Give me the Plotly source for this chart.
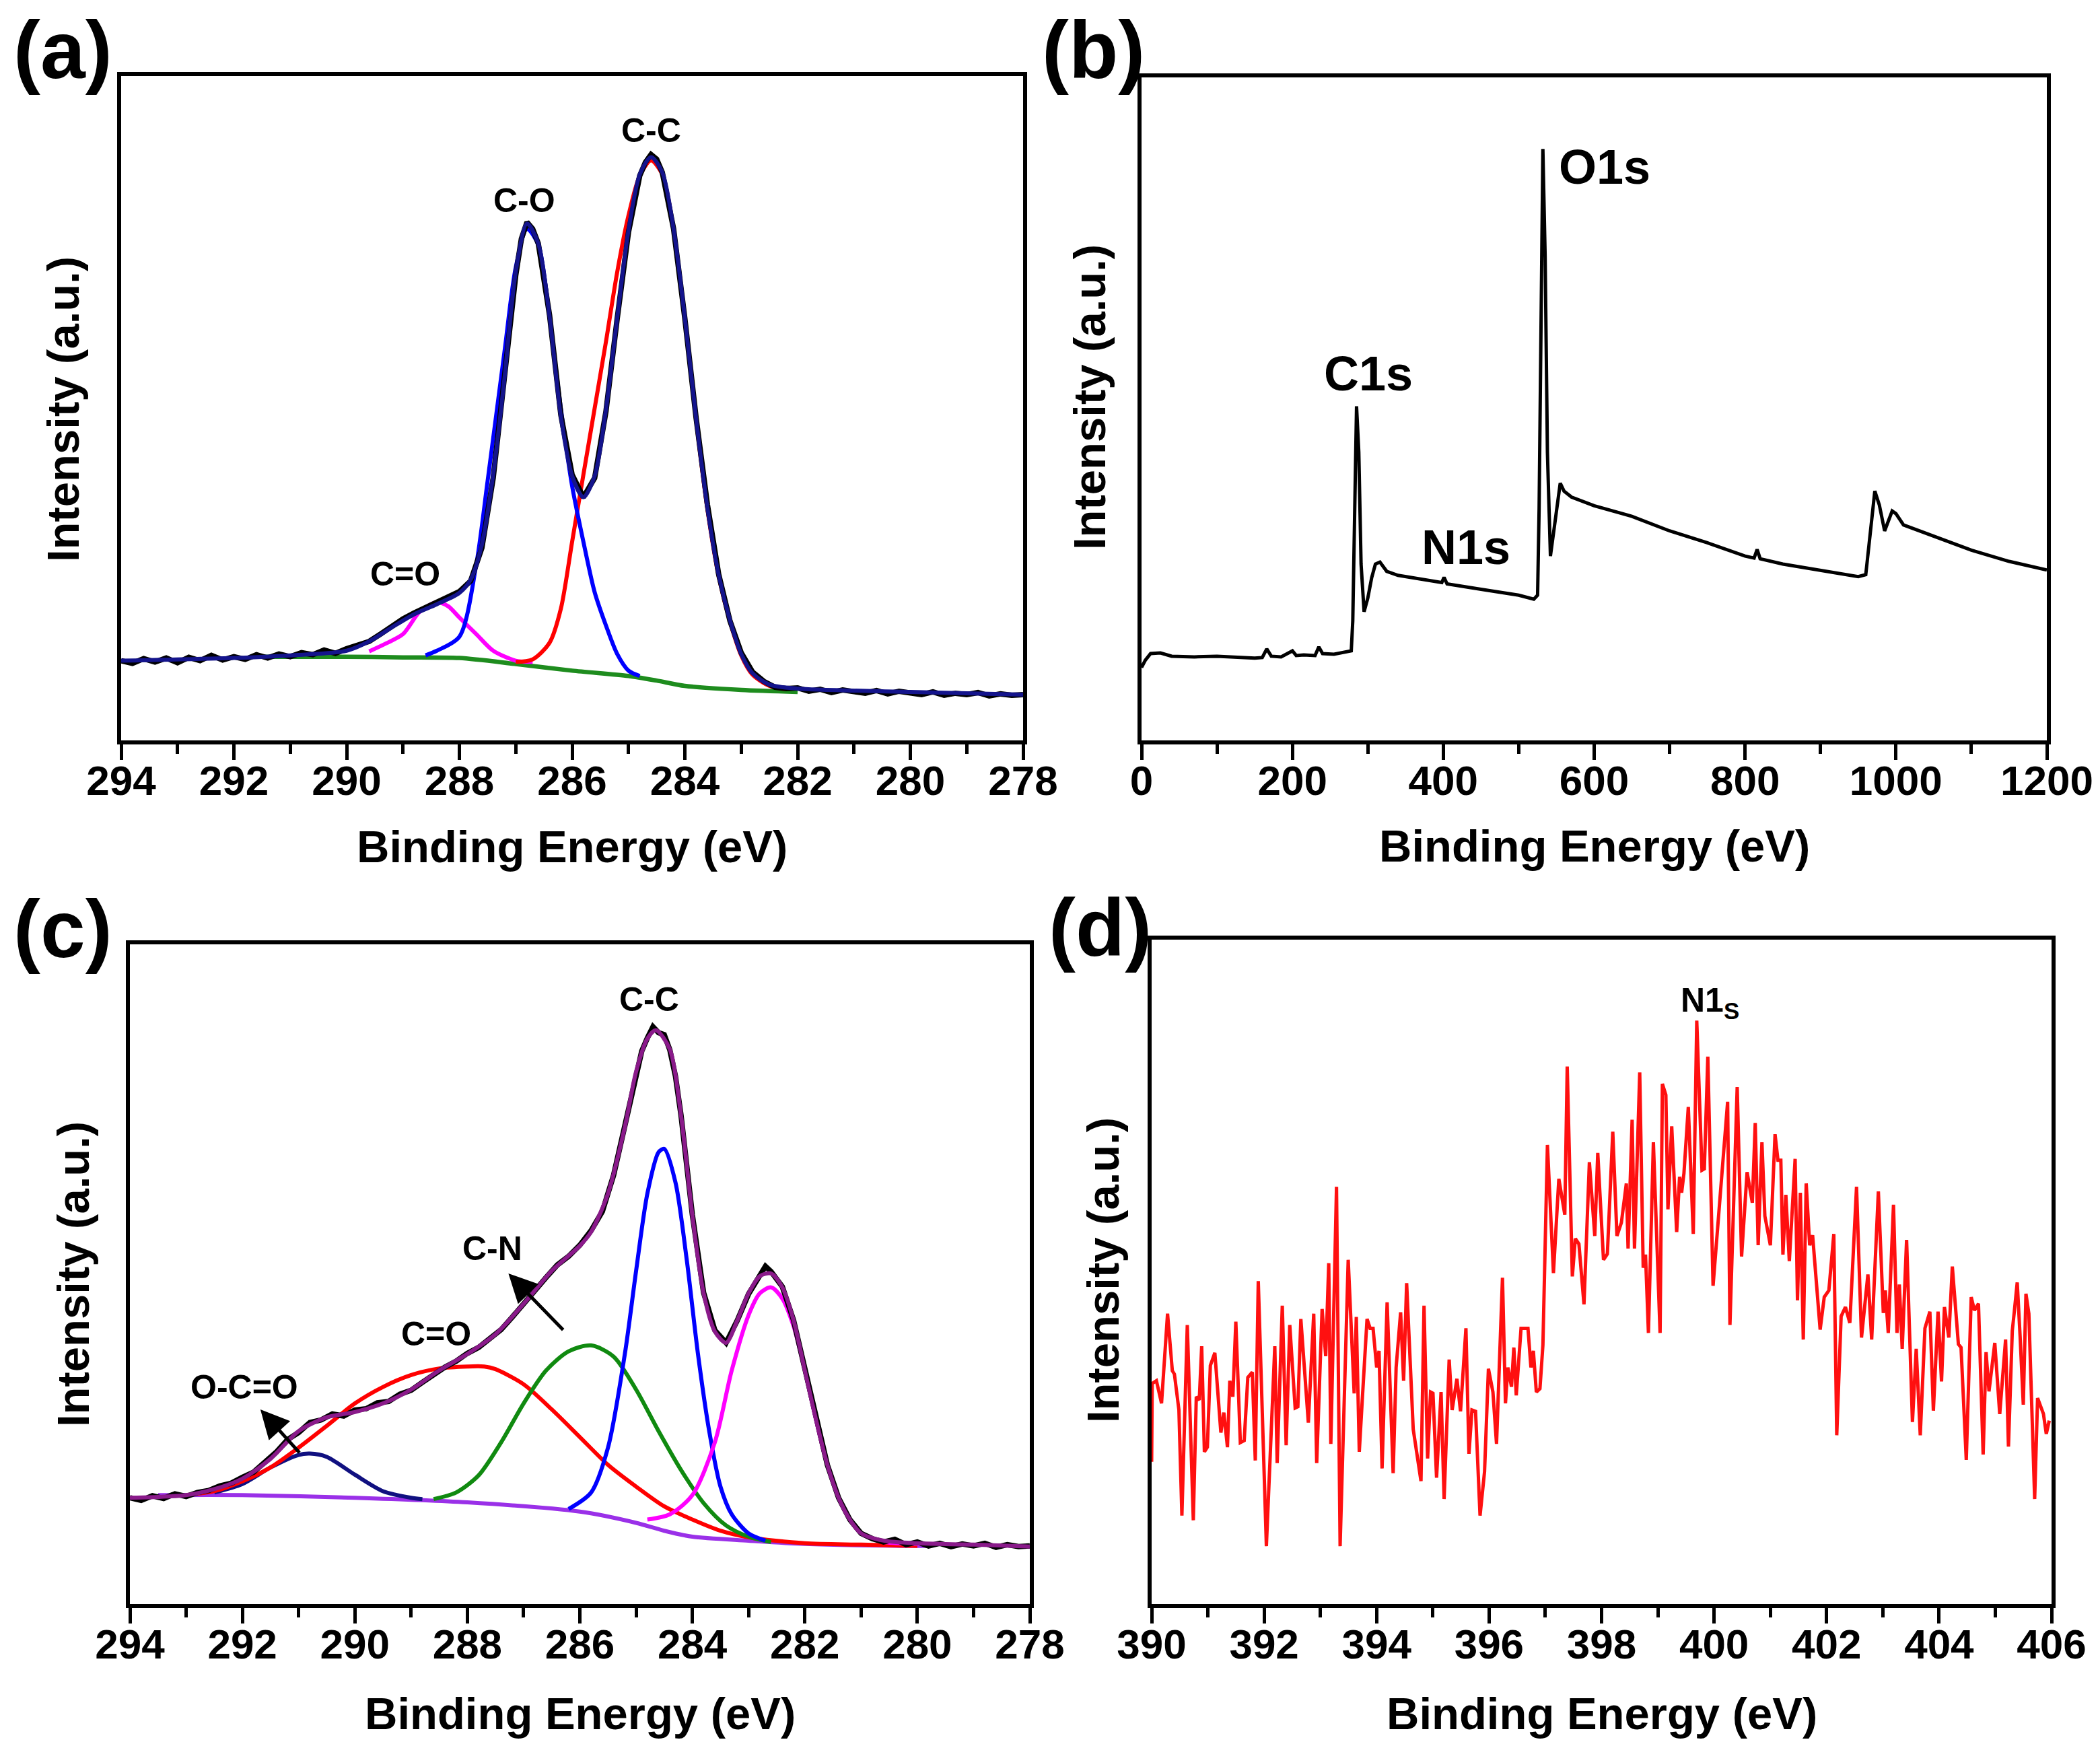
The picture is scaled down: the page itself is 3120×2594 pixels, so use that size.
import plotly.graph_objects as go

# ---- (a) C1s high-resolution spectrum ----
a_be = [294.0, 293.8, 293.6, 293.4, 293.2, 293.0, 292.8, 292.6, 292.4, 292.2, 292.0, 291.8, 291.6, 291.4,
        291.2, 291.0, 290.8, 290.6, 290.4, 290.2, 290.0, 289.8, 289.6, 289.4, 289.2, 289.0, 288.8, 288.6,
        288.4, 288.2, 288.0, 287.8, 287.6, 287.4, 287.2, 287.0, 286.9, 286.8, 286.7, 286.6, 286.4, 286.2,
        286.0, 285.8, 285.6, 285.4, 285.2, 285.0, 284.8, 284.7, 284.6, 284.5, 284.4, 284.2, 284.0, 283.8,
        283.6, 283.4, 283.2, 283.0, 282.8, 282.6, 282.4, 282.2, 282.0, 281.8, 281.6, 281.4, 281.2, 281.0,
        280.8, 280.6, 280.4, 280.2, 280.0, 279.8, 279.6, 279.4, 279.2, 279.0, 278.8, 278.6, 278.4, 278.2, 278.0]
a_raw = [12.0, 11.6, 12.3, 11.8, 12.4, 11.7, 12.5, 12.0, 12.8, 12.1, 12.6, 12.2, 12.9, 12.4,
         13.0, 12.6, 13.2, 12.9, 13.6, 13.1, 13.8, 14.3, 14.9, 16.0, 17.2, 18.3, 19.2, 20.0,
         20.6, 21.4, 22.4, 24.0, 29.0, 39.5, 54.0, 70.0, 75.5, 78.0, 77.0, 74.8, 64.0, 49.0,
         40.0, 36.6, 39.5, 49.5, 63.5, 76.5, 85.0, 87.0, 88.2, 87.5, 85.5, 77.0, 63.5, 48.5,
         35.5, 25.0, 18.0, 13.2, 10.3, 8.9, 8.0, 7.8, 7.9, 7.4, 7.7, 7.2, 7.6, 7.3,
         7.1, 7.5, 7.0, 7.4, 7.2, 6.9, 7.3, 6.8, 7.1, 6.9, 7.2, 6.7, 7.0, 6.8, 6.9]

a_fit_be = [294.0, 292.0, 291.0, 290.0, 289.6, 289.2, 288.8, 288.4, 288.0, 287.8, 287.6, 287.4, 287.2,
            287.0, 286.8, 286.6, 286.4, 286.2, 286.0, 285.8, 285.6, 285.4, 285.2, 285.0, 284.8, 284.6,
            284.4, 284.2, 284.0, 283.8, 283.6, 283.4, 283.2, 283.0, 282.8, 282.5, 282.0, 280.0, 278.0]
a_fit = [12.0, 12.4, 12.8, 13.5, 14.9, 17.0, 19.0, 20.5, 22.2, 24.2, 29.5, 40.0, 54.5,
         70.5, 77.8, 74.8, 63.8, 48.8, 39.8, 36.6, 39.8, 49.8, 63.6, 76.8, 85.2, 87.8,
         85.5, 77.0, 63.6, 48.4, 35.0, 24.9, 18.1, 13.0, 10.1, 8.4, 7.8, 7.3, 6.9]

a_co_be = [288.6, 288.4, 288.0, 287.7, 287.5, 287.2, 287.0, 286.8, 286.6, 286.4, 286.2, 286.0,
           285.8, 285.6, 285.4, 285.2, 285.0, 284.8]
a_co = [12.8, 13.5, 15.6, 26.5, 39.0, 58.5, 71.2, 77.0, 74.6, 63.6, 50.0, 38.3,
        29.9, 22.3, 17.3, 13.0, 10.5, 9.7]

a_cc_be = [287.0, 286.7, 286.4, 286.2, 286.0, 285.8, 285.6, 285.4, 285.2, 285.0, 284.8, 284.6,
           284.4, 284.2, 284.0, 283.8, 283.6, 283.4, 283.2, 283.0, 282.8, 282.5, 282.2]
a_cc = [11.8, 12.2, 14.7, 19.8, 29.9, 40.0, 50.0, 60.0, 70.5, 79.0, 85.0, 87.3,
        85.2, 76.8, 63.4, 48.2, 34.8, 24.7, 17.9, 12.8, 9.9, 8.2, 7.7]

a_cdo_be = [289.6, 289.3, 289.0, 288.7, 288.4, 288.2, 288.0, 287.7, 287.4, 287.0, 286.7]
a_cdo = [13.4, 14.6, 16.0, 19.4, 20.8, 20.2, 18.5, 16.0, 13.5, 12.0, 11.8]

a_bg_be = [291.5, 290.0, 289.0, 288.0, 287.0, 286.0, 285.0, 284.5, 284.0, 283.0, 282.0]
a_bg = [12.6, 12.6, 12.5, 12.4, 11.5, 10.5, 9.7, 9.0, 8.2, 7.6, 7.3]

# ---- (b) survey spectrum ----
b_be = [0, 5, 12, 25, 40, 70, 100, 130, 150, 160, 166, 172, 185, 200, 205, 215, 230, 235, 240, 255,
        270, 278, 280, 283, 285, 288, 291, 295, 300, 305, 310, 316, 325, 340, 370, 398, 401, 405, 450,
        500, 520, 525, 527, 530, 532, 535, 538, 542, 548, 555, 560, 570, 600, 650, 700, 750, 800, 812,
        816, 820, 850, 900, 950, 960, 965, 972, 978, 985, 995, 1000, 1010, 1050, 1100, 1150, 1200]
b_int = [11.0, 12.1, 13.1, 13.2, 12.7, 12.6, 12.7, 12.5, 12.4, 12.5, 13.8, 12.7, 12.6, 13.5, 12.8, 12.9,
         12.8, 14.1, 13.1, 13.0, 13.3, 13.5, 18.0, 35.0, 50.4, 43.5, 26.6, 19.4, 21.5, 24.5, 26.6, 26.9,
         25.5, 24.9, 24.3, 23.8, 24.6, 23.6, 22.8, 21.9, 21.3, 21.9, 35.0, 68.8, 89.2, 73.0, 43.5, 27.8,
         33.3, 38.8, 37.6, 36.7, 35.4, 33.8, 31.6, 29.8, 27.8, 27.5, 28.8, 27.4, 26.6, 25.7, 24.7, 25.0,
         30.0, 37.6, 35.5, 31.6, 34.6, 34.2, 32.5, 30.8, 28.7, 27.0, 25.7]

# ---- (c) C1s high-resolution spectrum ----
c_be = [294.0, 293.8, 293.6, 293.4, 293.2, 293.0, 292.8, 292.6, 292.4, 292.2, 292.0, 291.8, 291.6, 291.4,
        291.2, 291.0, 290.8, 290.6, 290.4, 290.2, 290.0, 289.8, 289.6, 289.4, 289.2, 289.0, 288.8, 288.6,
        288.4, 288.2, 288.0, 287.8, 287.6, 287.4, 287.2, 287.0, 286.8, 286.6, 286.4, 286.2, 286.0, 285.8,
        285.6, 285.4, 285.2, 285.0, 284.9, 284.8, 284.7, 284.6, 284.5, 284.4, 284.3, 284.2, 284.0, 283.8,
        283.6, 283.4, 283.2, 283.0, 282.8, 282.7, 282.6, 282.4, 282.2, 282.0, 281.8, 281.6, 281.4, 281.2,
        281.0, 280.8, 280.6, 280.4, 280.2, 280.0, 279.8, 279.6, 279.4, 279.2, 279.0, 278.8, 278.6, 278.4,
        278.2, 278.0]
c_raw = [16.1, 15.7, 16.4, 16.0, 16.7, 16.3, 16.9, 17.2, 17.9, 18.3, 19.2, 20.0, 21.5, 23.0,
         24.9, 26.0, 27.5, 27.9, 28.8, 28.5, 29.4, 29.6, 30.5, 30.7, 31.8, 32.4, 33.6, 34.8,
         35.9, 36.8, 38.0, 38.9, 40.3, 41.6, 43.5, 45.6, 47.6, 49.5, 51.4, 52.7, 54.4, 56.6,
         59.5, 65.0, 72.5, 80.5, 83.8, 85.8, 87.5, 86.6, 86.3, 84.0, 80.0, 74.0, 59.0, 47.2,
         41.5, 39.6, 43.0, 47.0, 49.8, 51.2, 50.4, 48.1, 43.0, 35.4, 27.9, 21.1, 16.1, 12.8,
         10.7, 9.9, 9.4, 9.8, 9.0, 9.4, 8.8, 9.2, 8.7, 9.1, 8.8, 9.2, 8.6, 9.0,
         8.7, 8.8]

c_fit_be = [294.0, 293.0, 292.5, 292.0, 291.5, 291.0, 290.5, 290.0, 289.5, 289.0, 288.5, 288.0, 287.5,
            287.0, 286.5, 286.0, 285.8, 285.5, 285.2, 285.0, 284.8, 284.65, 284.4, 284.2, 284.0, 283.8,
            283.6, 283.4, 283.2, 283.0, 282.8, 282.6, 282.4, 282.2, 282.0, 281.8, 281.6, 281.4, 281.2,
            281.0, 280.6, 280.0, 279.0, 278.0]
c_fit = [16.1, 16.5, 17.4, 19.0, 22.0, 26.2, 28.3, 29.1, 30.4, 32.5, 35.4, 37.9, 40.9,
         45.5, 50.5, 54.3, 56.4, 62.2, 72.3, 80.7, 85.7, 87.0, 84.1, 74.0, 58.9, 47.1,
         41.3, 39.6, 43.0, 47.1, 49.7, 50.1, 48.0, 43.0, 35.4, 27.9, 21.1, 16.1, 12.8,
         10.7, 9.6, 9.2, 9.0, 8.7]

c_ocdo_be = [292.5, 292.0, 291.5, 291.0, 290.8, 290.5, 290.0, 289.5, 289.0, 288.8]
c_ocdo = [16.9, 18.2, 20.7, 22.6, 22.8, 22.3, 19.6, 17.1, 16.1, 15.9]

c_cdo_be = [293.0, 292.5, 292.0, 291.5, 291.0, 290.5, 290.0, 289.5, 289.0, 288.5, 288.0, 287.7, 287.5,
            287.0, 286.5, 286.0, 285.5, 285.0, 284.5, 284.0, 283.5, 283.0, 282.0, 281.0, 280.0]
c_cdo = [16.5, 17.1, 18.6, 20.7, 23.7, 27.0, 30.4, 32.9, 34.7, 35.7, 36.0, 36.0, 35.6,
         33.3, 29.5, 25.3, 21.1, 17.8, 14.8, 12.8, 11.1, 10.1, 9.2, 9.0, 8.8]

c_cn_be = [288.6, 288.2, 287.8, 287.4, 287.0, 286.6, 286.2, 285.8, 285.4, 285.0, 284.6, 284.2,
           283.8, 283.4, 283.0, 282.6]
c_cn = [15.9, 16.9, 19.5, 24.5, 30.4, 35.4, 38.3, 39.2, 37.5, 32.5, 26.2, 20.3,
        15.3, 11.9, 10.2, 9.4]

c_cc_be = [286.2, 285.8, 285.5, 285.2, 285.0, 284.8, 284.6, 284.5, 284.3, 284.1, 283.9, 283.7,
           283.5, 283.3, 283.0, 282.7]
c_cc = [14.4, 16.9, 23.7, 37.9, 50.5, 62.2, 68.5, 69.0, 63.9, 52.2, 37.9, 26.2,
        17.8, 13.6, 10.7, 9.6]

c_p2_be = [284.8, 284.4, 284.0, 283.6, 283.3, 283.0, 282.8, 282.6, 282.4, 282.2, 282.0, 281.8,
           281.6, 281.4, 281.2, 281.0, 280.6, 280.0, 279.8]
c_p2 = [12.8, 13.6, 16.5, 24.5, 35.4, 43.8, 47.1, 48.0, 46.3, 42.1, 35.4, 27.9,
        21.1, 16.1, 12.8, 10.7, 9.4, 9.1, 9.0]

c_bg_be = [293.5, 292.0, 290.0, 288.0, 286.0, 285.0, 284.5, 284.0, 283.0, 282.0, 280.0, 279.8]
c_bg = [16.5, 16.5, 16.1, 15.4, 14.0, 12.3, 11.1, 10.2, 9.6, 9.1, 8.8, 8.8]

# ---- (d) N1s high-resolution spectrum ----
d_be = [390.00, 390.01, 390.085, 390.176, 390.283, 390.368, 390.405, 390.485, 390.538, 390.634, 390.741,
        390.794, 390.847, 390.890, 390.938, 390.991, 391.044, 391.124, 391.231, 391.284, 391.348, 391.390,
        391.444, 391.497, 391.577, 391.646, 391.710, 391.790, 391.843, 391.896, 392.040, 392.190, 392.232,
        392.323, 392.392, 392.456, 392.552, 392.600, 392.653, 392.786, 392.882, 392.935, 393.031, 393.095,
        393.149, 393.186, 393.287, 393.351, 393.495, 393.601, 393.639, 393.692, 393.745, 393.830, 393.884,
        393.937, 394.001, 394.043, 394.097, 394.187, 394.294, 394.347, 394.427, 394.480, 394.534, 394.651,
        394.789, 394.843, 394.907, 394.960, 395.002, 395.066, 395.146, 395.200, 395.290, 395.343, 395.428,
        395.492, 395.588, 395.642, 395.695, 395.759, 395.839, 395.919, 395.988, 396.068, 396.132, 396.238,
        396.291, 396.334, 396.398, 396.440, 396.483, 396.568, 396.691, 396.744, 396.787, 396.840, 396.904,
        396.957, 397.037, 397.144, 397.240, 397.346, 397.389, 397.480, 397.533, 397.597, 397.687, 397.783,
        397.879, 397.932, 398.034, 398.103, 398.199, 398.273, 398.352, 398.440, 398.471, 398.543, 398.585,
        398.678, 398.740, 398.781, 398.833, 398.921, 399.040, 399.081, 399.143, 399.180, 399.247, 399.335,
        399.387, 399.423, 399.464, 399.542, 399.630, 399.692, 399.785, 399.827, 399.889, 399.982, 400.241,
        400.282, 400.411, 400.489, 400.587, 400.680, 400.732, 400.784, 400.851, 400.903, 401.001, 401.084,
        401.136, 401.187, 401.224, 401.276, 401.338, 401.441, 401.483, 401.534, 401.586, 401.638, 401.700,
        401.752, 401.886, 401.959, 402.041, 402.129, 402.181, 402.259, 402.336, 402.414, 402.533, 402.621,
        402.735, 402.802, 402.921, 403.009, 403.045, 403.097, 403.190, 403.252, 403.294, 403.345, 403.423,
        403.527, 403.594, 403.666, 403.749, 403.837, 403.899, 403.982, 404.044, 404.096, 404.174, 404.236,
        404.344, 404.391, 404.484, 404.572, 404.629, 404.701, 404.784, 404.836, 404.888, 404.991, 405.079,
        405.183, 405.234, 405.302, 405.338, 405.390, 405.441, 405.498, 405.545, 405.597, 405.700, 405.752,
        405.856, 405.907, 405.959]
d_int = [21.4, 33.2, 33.6, 30.2, 43.7, 35.1, 34.6, 29.2, 13.3, 42.0, 12.6,
         31.2, 30.7, 38.8, 22.9, 23.6, 35.9, 37.8, 25.8, 28.8, 23.6, 33.6,
         31.2, 42.5, 24.3, 24.6, 34.1, 34.9, 21.6, 48.6, 8.7, 38.8, 21.2,
         44.9, 23.9, 42.0, 29.5, 29.7, 42.9, 27.3, 43.7, 21.2, 44.4, 37.3,
         51.3, 24.1, 62.8, 8.7, 51.8, 31.7, 43.2, 22.9, 30.7, 42.9, 41.5,
         41.5, 35.6, 38.1, 20.4, 45.4, 19.7, 35.6, 43.9, 33.6, 48.3, 26.3,
         18.5, 44.9, 21.9, 31.9, 31.7, 19.0, 31.9, 15.8, 36.8, 29.2, 33.9,
         29.0, 41.5, 22.6, 29.2, 29.0, 13.3, 19.9, 35.4, 31.9, 24.1, 49.1,
         30.2, 35.6, 32.7, 38.6, 31.4, 41.5, 41.5, 35.6, 38.1, 31.9, 32.4,
         39.0, 69.1, 49.8, 64.0, 58.6, 80.9, 49.3, 55.0, 54.2, 45.1, 66.5,
         55.4, 67.9, 51.8, 52.7, 71.1, 55.4, 57.4, 63.3, 53.5, 72.9, 53.5,
         80.0, 50.6, 52.6, 40.8, 69.5, 40.8, 78.3, 76.6, 59.4, 71.9, 56.0,
         64.3, 61.9, 64.8, 74.8, 55.7, 87.8, 65.3, 65.5, 82.4, 47.9, 75.6,
         42.0, 77.8, 52.3, 65.0, 60.4, 72.4, 54.0, 69.5, 58.4, 54.0, 70.7,
         66.8, 66.8, 52.6, 61.6, 51.6, 67.0, 45.7, 61.9, 39.8, 63.3, 54.0,
         55.5, 41.3, 46.2, 47.2, 55.7, 25.4, 43.3, 44.7, 42.3, 62.8, 40.1,
         49.6, 39.8, 62.1, 43.8, 47.2, 40.8, 60.1, 40.8, 48.1, 38.4, 54.8,
         27.4, 38.4, 25.4, 41.5, 44.0, 29.1, 44.0, 33.5, 44.7, 40.1, 50.8,
         39.1, 38.6, 21.7, 46.2, 44.2, 45.2, 22.5, 37.9, 32.0, 39.3, 28.6,
         39.8, 23.7, 41.1, 44.0, 48.4, 40.3, 30.0, 46.7, 43.7, 15.8, 31.0,
         28.6, 25.6, 27.6]

W, H = 3120, 2594
FONT = "Liberation Sans, Arial, sans-serif"

# plot boxes in pixels: left, right, top, bottom
boxes = {
    "a": (172, 1512, 105, 1092),
    "b": (1688, 3033, 107, 1092),
    "c": (185, 1522, 1395, 2375),
    "d": (1703, 3040, 1388, 2375),
}


def xdom(b):
    return [b[0] / W, b[1] / W]


def ydom(b):
    return [1 - b[3] / H, 1 - b[2] / H]


fig = go.Figure()


def line(x, y, color, width, ax, shape="spline"):
    fig.add_trace(go.Scatter(x=x, y=y, mode="lines", xaxis=ax[0], yaxis=ax[1],
                             line=dict(color=color, width=width, shape=shape, smoothing=0.8),
                             showlegend=False, hoverinfo="skip"))


A = ("x", "y")
B = ("x2", "y2")
C = ("x3", "y3")
D = ("x4", "y4")

# (a) components under the measured curve and envelope
line(a_bg_be, a_bg, "#1e8c1e", 6.5, A)
line(a_cdo_be, a_cdo, "#ff00ff", 6, A)
line(a_cc_be, a_cc, "#ff0000", 6, A)
line(a_co_be, a_co, "#0000ff", 6, A)
line(a_be, a_raw, "black", 8, A, "linear")
line(a_fit_be, a_fit, "#14148c", 6, A)
# (b)
line(b_be, b_int, "black", 5, B, "linear")
# (c)
line(c_bg_be, c_bg, "#9a30e8", 6, C)
line(c_ocdo_be, c_ocdo, "#101080", 6, C)
line(c_cdo_be, c_cdo, "#ff0000", 6, C)
line(c_cn_be, c_cn, "#108a10", 6, C)
line(c_cc_be, c_cc, "#0000ff", 6, C)
line(c_p2_be, c_p2, "#ff00ff", 6, C)
line(c_be, c_raw, "black", 8, C, "linear")
line(c_fit_be, c_fit, "#8a1a8a", 6, C)
# (d)
line(d_be, d_int, "#ff1010", 5, D, "linear")

tickfont = dict(family=FONT, size=62, color="black", weight="bold")


def xaxis(box, rng, dtick, minor):
    return dict(domain=xdom(box), range=rng, dtick=dtick, tick0=0, showline=True, mirror=True,
                linecolor="black", linewidth=6, ticks="outside", ticklen=23, tickwidth=5,
                tickcolor="black", tickfont=tickfont, ticklabelstandoff=-22,
                showgrid=False, zeroline=False, automargin=False,
                minor=dict(dtick=minor, ticks="outside", ticklen=14, tickwidth=5, tickcolor="black"))


def yaxis(box, anchor):
    return dict(domain=ydom(box), range=[0, 100], anchor=anchor, showline=True, mirror=True,
                linecolor="black", linewidth=6, ticks="", showticklabels=False,
                showgrid=False, zeroline=False, automargin=False)


fig.update_layout(
    width=W, height=H, autosize=False,
    margin=dict(l=0, r=0, t=0, b=0, pad=0, autoexpand=False),
    paper_bgcolor="white", plot_bgcolor="white",
    xaxis=dict(xaxis(boxes["a"], [294, 278], 2, 1), anchor="y"),
    yaxis=yaxis(boxes["a"], "x"),
    xaxis2=dict(xaxis(boxes["b"], [0, 1200], 200, 100), anchor="y2"),
    yaxis2=yaxis(boxes["b"], "x2"),
    xaxis3=dict(xaxis(boxes["c"], [294, 278], 2, 1), anchor="y3"),
    yaxis3=yaxis(boxes["c"], "x3"),
    xaxis4=dict(xaxis(boxes["d"], [390, 406], 2, 1), anchor="y4"),
    yaxis4=yaxis(boxes["d"], "x4"),
)

ann = []


def paper_text(text, px, py, size, angle=0):
    ann.append(dict(text=text, x=px / W, y=1 - py / H, xref="paper", yref="paper",
                    showarrow=False, textangle=angle, xanchor="center", yanchor="middle",
                    font=dict(family=FONT, size=size, color="black", weight="bold")))


def data_text(text, x, y, ax, size):
    ann.append(dict(text=text, x=x, y=y, xref=ax[0], yref=ax[1], showarrow=False,
                    xanchor="center", yanchor="middle",
                    font=dict(family=FONT, size=size, color="black", weight="bold")))


# panel letters
paper_text("(a)", 85, 66, 120)
paper_text("(b)", 1616, 66, 120)
paper_text("(c)", 85, 1372, 120)
paper_text("(d)", 1626, 1370, 120)

# axis titles
for key, xt_y in (("a", 1250), ("b", 1248), ("c", 2537), ("d", 2537)):
    bx = boxes[key]
    paper_text("Binding Energy (eV)", (bx[0] + bx[1]) / 2, xt_y, 67)
paper_text("Intensity (a.u.)", 85, 600, 67, -90)
paper_text("Intensity (a.u.)", 1610, 582, 67, -90)
paper_text("Intensity (a.u.)", 100, 1885, 67, -90)
paper_text("Intensity (a.u.)", 1630, 1879, 67, -90)

# peak labels
data_text("C-C", 284.6, 91.8, A, 50)
data_text("C-O", 286.85, 81.3, A, 50)
data_text("C=O", 288.96, 25.0, A, 50)

data_text("C1s", 301, 55.3, B, 72)
data_text("N1s", 430, 29.1, B, 72)
data_text("O1s", 614, 86.5, B, 72)

data_text("C-C", 284.77, 91.6, C, 50)
data_text("C-N", 287.55, 53.9, C, 50)
data_text("C=O", 288.56, 40.9, C, 50)
data_text("O-C=O", 291.96, 32.9, C, 50)

data_text("N1<sub>S</sub>", 399.93, 90.5, D, 50)

# arrows in (c)
for head, tail in (((291.68, 29.5), (290.97, 22.8)), ((287.27, 50.1), (286.28, 41.4))):
    ann.append(dict(text="", x=head[0], y=head[1], ax=tail[0], ay=tail[1], xref="x3", yref="y3",
                    axref="x3", ayref="y3", showarrow=True, arrowhead=2, arrowsize=1.7,
                    arrowwidth=5, arrowcolor="black"))

fig.update_layout(annotations=ann)

fig.write_html("out.html")
